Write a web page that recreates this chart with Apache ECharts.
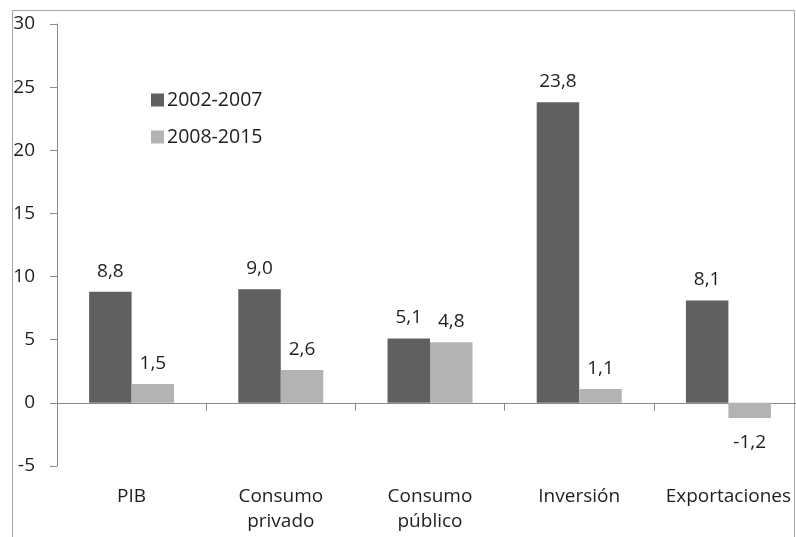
<!DOCTYPE html>
<html>
<head>
<meta charset="utf-8">
<script src="https://cdn.jsdelivr.net/npm/echarts@6/dist/echarts.min.js"></script>
<style>
  html, body { margin: 0; padding: 0; background: #ffffff; }
  #chart { width: 796px; height: 537px; }
</style>
</head>
<body>
<div id="chart"></div>
<script>
// Crecimiento acumulado por componente de demanda (%)
const categories = ['PIB', 'Consumo\nprivado', 'Consumo\npúblico', 'Inversión', 'Exportaciones'];
const seriesNames = ['2002-2007', '2008-2015'];
const values2002 = [8.8, 9.0, 5.1, 23.8, 8.1];
const values2008 = [1.5, 2.6, 4.8, 1.1, -1.2];
const yTicks = { min: -5, max: 30, step: 5 };

const FONT = 'Open Sans';
const TEXT = '#1e1e1e';
const AXIS = '#8a8a8a';
const DARK = '#606060';
const LIGHT = '#b3b3b3';

const fmt = v => v.toFixed(1).replace('.', ',');

// Negative values carry their label beneath the bar
const toData = arr => arr.map(v => v < 0
  ? { value: v, label: { position: 'bottom', distance: 15 } }
  : v);

const chart = echarts.init(document.getElementById('chart'), null, { renderer: 'canvas' });

chart.setOption({
  animation: false,
  backgroundColor: '#ffffff',
  textStyle: { fontFamily: FONT },
  graphic: [{
    type: 'rect',
    silent: true,
    shape: { x: 12.5, y: 10.5, width: 782, height: 600 },
    style: { fill: 'none', stroke: '#a6a6a6', lineWidth: 1 }
  }],
  legend: {
    orient: 'vertical',
    left: 151,
    top: 90,
    padding: 0,
    itemWidth: 13,
    itemHeight: 13,
    itemGap: 17,
    icon: 'rect',
    textStyle: { fontFamily: FONT, fontSize: 19.5, color: TEXT, padding: [0, 0, 0, -2] },
    data: seriesNames
  },
  grid: {
    left: 57, top: 24, bottom: 71, width: 746,
    containLabel: false,
    outerBoundsMode: 'none'
  },
  xAxis: {
    type: 'category',
    data: categories,
    axisLine: { onZero: true, lineStyle: { color: AXIS, width: 1 } },
    axisTick: { show: true, length: 8, interval: 0, lineStyle: { color: AXIS } },
    axisLabel: {
      interval: 0,
      margin: 18,
      fontFamily: FONT,
      fontSize: 19,
      lineHeight: 25,
      color: TEXT
    },
    splitLine: { show: false }
  },
  yAxis: {
    type: 'value',
    min: yTicks.min,
    max: yTicks.max,
    interval: yTicks.step,
    axisLine: { show: true, lineStyle: { color: AXIS, width: 1 } },
    axisTick: { show: true, length: 7, lineStyle: { color: AXIS } },
    axisLabel: { margin: 22, fontFamily: FONT, fontSize: 19, color: TEXT },
    splitLine: { show: false }
  },
  series: [
    {
      name: seriesNames[0],
      type: 'bar',
      data: toData(values2002),
      barWidth: 42.5,
      barGap: '0%',
      itemStyle: { color: DARK },
      label: {
        show: true,
        position: 'top',
        distance: 11,
        fontFamily: FONT,
        fontSize: 19,
        color: TEXT,
        formatter: p => fmt(p.value)
      }
    },
    {
      name: seriesNames[1],
      type: 'bar',
      data: toData(values2008),
      barWidth: 42.5,
      barGap: '0%',
      itemStyle: { color: LIGHT },
      label: {
        show: true,
        position: 'top',
        distance: 11,
        fontFamily: FONT,
        fontSize: 19,
        color: TEXT,
        formatter: p => fmt(p.value)
      }
    }
  ]
});
</script>
</body>
</html>
